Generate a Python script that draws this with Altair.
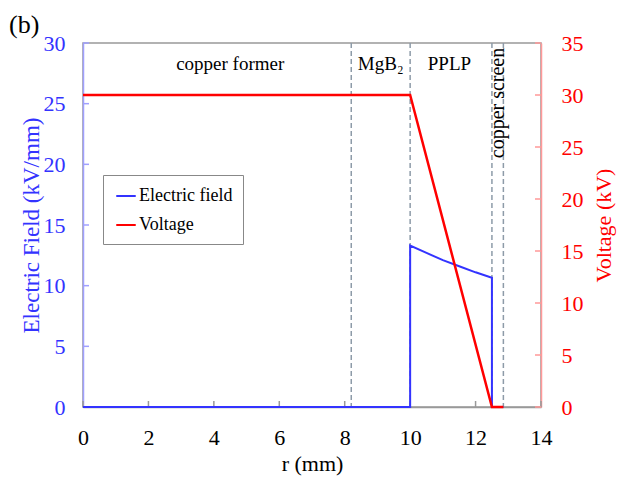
import altair as alt
import pandas as pd

# ---- data ----
field_r = [0, 10, 10, 10.5, 11, 11.5, 12, 12.5, 12.5, 12.85]
field_e = [0, 0, 13.3, 12.7, 12.1, 11.6, 11.1, 10.65, 0, 0]
volt_r = [0, 10, 12.5, 12.85]
volt_v = [30, 30, 0, 0]
boundaries = [8.2, 10, 12.5, 12.85]
h_labels = ["copper former", "MgB₂", "PPLP"]
h_label_r = [4.5, 9.1, 11.2]
v_labels = ["copper screen"]
v_label_r = [12.68]
x_ticks = [0, 2, 4, 6, 8, 10, 12, 14]
left_ticks = [0, 5, 10, 15, 20, 25, 30]
right_ticks = [0, 5, 10, 15, 20, 25, 30, 35]
panel = ["(b)"]

W, H = 458, 364
FONT = "Liberation Serif"
BLUE = "#3333ff"
RED = "#ff0000"

field_df = pd.DataFrame({"r": field_r, "value": field_e,
                         "series": "Electric field",
                         "order": list(range(len(field_r)))})
volt_df = pd.DataFrame({"r": volt_r, "value": volt_v, "series": "Voltage",
                        "order": list(range(len(volt_r)))})

color_scale = alt.Scale(domain=["Electric field", "Voltage"], range=[BLUE, RED])
legend = alt.Legend(title=None, orient="none", legendX=20, legendY=132,
                    direction="vertical", symbolType="stroke", symbolSize=380,
                    symbolStrokeWidth=2, labelFont=FONT, labelFontSize=18,
                    labelColor="black", strokeColor="#888888", fillColor="white",
                    padding=10, rowPadding=9, labelOffset=2, symbolOffset=2)

x_enc = alt.X("r:Q", scale=alt.Scale(domain=[0, 14], nice=False),
              axis=alt.Axis(values=x_ticks, title="r (mm)", titleFont=FONT,
                            titleFontSize=22, titleFontWeight="normal",
                            titleColor="black", labelFont=FONT, labelFontSize=22,
                            labelColor="black", labelFlush=False, ticks=False,
                            domainColor="#999999", domainWidth=1.5,
                            labelPadding=20, titlePadding=5, grid=False))
x_plain = alt.X("r:Q")

rules = alt.Chart(pd.DataFrame({"r": boundaries})).mark_rule(
    strokeDash=[5, 3], color="#8d9ba8", strokeWidth=1.5).encode(x=x_enc)

field_line = alt.Chart(field_df).mark_line(strokeWidth=2).encode(
    x=x_plain,
    y=alt.Y("value:Q", scale=alt.Scale(domain=[0, 30], nice=False),
            axis=alt.Axis(values=left_ticks, title="Electric Field (kV/mm)",
                          titleFont=FONT, titleFontSize=23, titleFontWeight="normal",
                          titleColor=BLUE, labelFont=FONT, labelFontSize=22,
                          labelColor=BLUE, labelFlush=False, ticks=False,
                          domainColor="#a0a0ff", domainWidth=1.5, labelPadding=18,
                          titlePadding=0, grid=False)),
    color=alt.Color("series:N", scale=color_scale, legend=legend),
    order="order:Q",
)

x_tick_marks = alt.Chart(pd.DataFrame({"r": x_ticks})).mark_rule(
    color="#999999", strokeWidth=1.5).encode(
    x=x_plain, y=alt.value(H - 6), y2=alt.value(H))

left_tick_marks = alt.Chart(pd.DataFrame({"value": left_ticks})).mark_rule(
    color="#a0a0ff", strokeWidth=1.5).encode(
    y=alt.Y("value:Q"), x=alt.value(0), x2=alt.value(6))

h_text = alt.Chart(pd.DataFrame({"r": h_label_r, "label": h_labels})).mark_text(
    font=FONT, fontSize=19, color="black", baseline="middle").encode(
    x=x_plain, y=alt.value(21), text="label:N")

v_text = alt.Chart(pd.DataFrame({"r": v_label_r, "label": v_labels})).mark_text(
    font=FONT, fontSize=20, color="black", baseline="middle", angle=270).encode(
    x=x_plain, y=alt.value(60), text="label:N")

panel_text = alt.Chart(pd.DataFrame({"label": panel})).mark_text(
    font=FONT, fontSize=26, color="black", align="left", baseline="middle").encode(
    x=alt.value(-74), y=alt.value(-18), text="label:N")

left = alt.layer(rules, x_tick_marks, left_tick_marks, field_line, h_text, v_text,
                 panel_text)

volt_line = alt.Chart(volt_df).mark_line(strokeWidth=2.5).encode(
    x=x_plain,
    y=alt.Y("value:Q", scale=alt.Scale(domain=[0, 35], nice=False),
            axis=alt.Axis(orient="right", values=right_ticks, title="Voltage (kV)",
                          titleFont=FONT, titleFontSize=22, titleFontWeight="normal",
                          titleColor=RED, titleAngle=270, titleBaseline="top",
                          labelFont=FONT, labelFontSize=22, labelColor=RED,
                          labelFlush=False, ticks=False,
                          domainColor="#ff9999", domainWidth=1.5, labelPadding=20,
                          titlePadding=10, grid=False)),
    color=alt.Color("series:N", scale=color_scale, legend=legend),
    order="order:Q",
)

right_tick_marks = alt.Chart(pd.DataFrame({"value": right_ticks})).mark_rule(
    color="#ff9999", strokeWidth=1.5).encode(
    y=alt.Y("value:Q"), x=alt.value(W - 6), x2=alt.value(W))

right = alt.layer(right_tick_marks, volt_line)

chart = alt.layer(left, right).resolve_scale(y="independent").properties(
    width=W, height=H,
    autosize=alt.AutoSizeParams(type="none"),
    padding={"left": 75, "top": 35, "right": 78, "bottom": 70},
).configure(font=FONT).configure_view(
    stroke="#999999", strokeWidth=1.5
).configure_axis(grid=False, labelFont=FONT, titleFont=FONT).configure_legend(
    labelFont=FONT
).configure_text(font=FONT)

chart.save("out.html", embed_options={"renderer": "svg", "actions": False})
